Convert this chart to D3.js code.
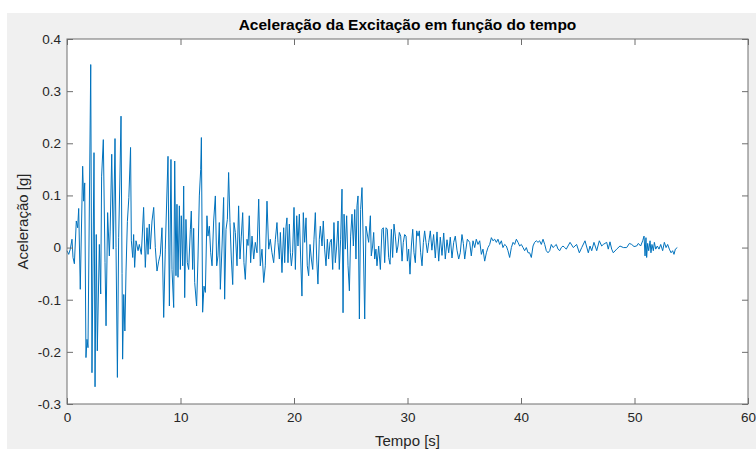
<!DOCTYPE html>
<html>
<head>
<meta charset="utf-8">
<script src="https://cdn.jsdelivr.net/npm/d3@7"></script>
<style>
  body { margin: 0; background: #ffffff; }
  svg { display: block; font-family: "Liberation Sans", Arial, Helvetica, sans-serif; }
</style>
</head>
<body>
<svg id="chart" width="756" height="449"></svg>
<script>
// Ground acceleration record: time instants [s] and acceleration [g]
const tempo = [
  0.00,0.15,0.29,0.44,0.53,0.65,0.82,0.94,1.03,1.17,
  1.38,1.47,1.56,1.67,1.76,1.85,2.09,2.20,2.38,2.47,
  2.58,2.67,2.85,2.97,3.05,3.20,3.35,3.44,3.58,3.73,
  3.80,3.94,4.08,4.23,4.32,4.44,4.55,4.65,4.76,4.85,
  4.90,5.00,5.10,5.20,5.32,5.45,5.60,5.67,5.79,5.87,
  5.96,6.08,6.26,6.37,6.55,6.75,6.90,7.05,7.14,7.25,
  7.34,7.49,7.64,7.78,7.93,8.08,8.22,8.37,8.52,8.66,
  8.90,9.02,9.16,9.25,9.40,9.49,9.60,9.69,9.78,9.90,
  9.99,10.07,10.19,10.28,10.37,10.48,10.60,10.72,10.87,10.95,
  11.07,11.16,11.25,11.42,11.54,11.66,11.78,11.84,11.95,12.07,
  12.19,12.33,12.42,12.54,12.66,12.78,12.92,13.07,13.19,13.30,
  13.42,13.51,13.66,13.80,13.89,14.01,14.13,14.24,14.36,14.48,
  14.60,14.71,14.83,14.98,15.12,15.24,15.36,15.48,15.59,15.71,
  15.86,15.95,16.06,16.18,16.30,16.45,16.59,16.74,16.89,17.03,
  17.18,17.33,17.47,17.62,17.77,17.91,18.06,18.21,18.36,18.50,
  18.59,18.71,18.80,18.94,19.09,19.18,19.30,19.38,19.47,19.59,
  19.68,19.77,19.88,20.00,20.12,20.24,20.35,20.47,20.59,20.70,
  20.82,20.94,21.06,21.17,21.29,21.41,21.53,21.65,21.76,21.88,
  22.00,22.11,22.23,22.32,22.47,22.58,22.70,22.82,22.94,23.05,
  23.17,23.29,23.41,23.52,23.64,23.76,23.88,23.99,24.11,24.23,
  24.32,24.41,24.52,24.64,24.76,24.88,24.99,25.11,25.23,25.35,
  25.46,25.55,25.64,25.76,25.87,25.99,26.11,26.23,26.34,
  26.58,26.73,26.81,26.93,27.02,27.11,27.22,27.31,27.46,27.61,
  27.75,27.87,27.99,28.11,28.22,28.34,28.46,28.58,28.69,28.81,
  28.93,29.05,29.16,29.28,29.40,29.52,29.63,29.75,29.87,29.99,
  30.10,30.22,30.34,30.46,30.57,30.69,30.81,30.93,31.04,31.16,
  31.28,31.40,31.51,31.63,31.75,31.87,32.01,32.15,32.30,32.45,
  32.60,32.75,32.89,33.04,33.19,33.33,33.48,33.63,33.77,33.92,
  34.07,34.21,34.36,34.51,34.65,34.80,34.92,35.04,35.15,35.27,
  35.48,35.62,35.77,35.92,36.06,36.21,36.36,36.51,36.65,36.80,
  36.95,37.09,37.24,37.39,37.53,37.68,37.83,37.97,38.12,38.27,
  38.41,38.56,38.71,38.85,39.00,39.15,39.30,39.44,39.59,39.74,
  39.88,40.03,40.18,40.32,40.47,40.62,40.76,40.91,41.06,41.20,
  41.35,41.50,41.64,41.79,41.94,42.09,42.23,42.38,42.53,42.67,
  42.82,42.97,43.11,43.26,43.41,43.55,43.70,43.85,43.99,44.14,
  44.32,44.61,44.90,45.14,45.35,45.64,45.93,46.08,46.23,46.43,
  46.67,46.90,47.11,47.25,47.55,47.69,47.84,47.99,48.13,48.43,
  48.72,49.02,49.31,49.55,49.75,49.96,50.19,50.34,50.54,50.72,
  50.84,50.93,51.01,51.07,51.16,51.25,51.37,51.45,51.54,51.66,
  51.75,51.87,52.01,52.16,52.31,52.48,52.63,52.78,52.92,53.07,
  53.22,53.36,53.48,53.60,53.77
];

const aceleracao = [
  -0.006,-0.013,-0.003,0.016,-0.019,-0.031,0.051,0.038,0.075,-0.080,
  0.156,0.089,0.124,-0.211,-0.176,-0.192,0.351,-0.240,0.182,-0.267,
  0.025,-0.198,0.006,-0.089,0.137,0.207,-0.029,-0.150,0.067,-0.016,
  0.030,0.179,-0.003,0.209,0.000,-0.249,0.019,0.120,0.252,-0.050,
  -0.214,-0.090,-0.160,-0.045,0.050,0.096,0.192,0.013,-0.019,0.025,
  -0.038,0.013,-0.006,0.006,-0.013,0.077,-0.038,0.038,-0.013,0.045,
  -0.003,0.051,0.077,0.000,-0.045,-0.026,-0.013,0.038,-0.134,-0.003,
  0.175,-0.112,0.169,-0.042,-0.115,0.166,-0.054,0.083,-0.057,0.080,
  -0.042,0.061,-0.035,0.118,-0.096,0.054,-0.029,-0.042,0.035,0.070,
  -0.042,0.037,-0.067,-0.112,-0.022,0.099,0.150,0.211,-0.124,-0.074,
  -0.086,0.061,0.022,0.041,-0.010,-0.035,0.051,0.099,-0.035,-0.016,
  0.048,-0.080,0.003,0.096,-0.099,0.035,0.054,0.144,0.048,-0.022,
  -0.071,0.048,0.029,-0.035,0.080,-0.022,0.022,0.067,-0.029,-0.061,
  0.016,0.004,0.061,-0.029,0.022,-0.022,0.010,-0.010,0.093,-0.035,
  -0.003,-0.067,-0.035,0.089,-0.003,0.016,-0.010,-0.029,0.016,0.048,
  0.010,-0.022,0.029,-0.048,0.038,-0.029,0.041,0.057,-0.029,0.045,
  -0.010,-0.035,-0.010,0.077,-0.042,0.061,0.003,0.064,-0.022,-0.093,
  0.067,0.010,0.057,-0.035,-0.054,0.006,-0.022,-0.042,0.016,0.067,
  -0.022,-0.070,0.016,0.041,0.003,0.051,-0.003,-0.035,0.016,-0.022,
  0.010,0.016,-0.042,0.048,-0.029,0.003,0.051,-0.042,0.016,0.112,
  -0.125,0.064,-0.003,0.061,-0.035,-0.083,0.022,0.064,0.003,0.073,
  -0.022,0.080,0.099,-0.137,0.073,0.115,0.003,-0.137,0.041,
  0.010,0.061,-0.016,0.003,0.029,-0.022,-0.003,-0.035,0.003,-0.042,
  0.035,0.038,-0.029,0.038,0.035,-0.019,-0.032,0.035,-0.019,0.045,
  0.022,-0.010,0.003,0.029,0.022,-0.026,0.010,0.025,0.022,-0.026,
  -0.003,-0.051,0.003,0.035,-0.010,-0.029,0.032,0.022,0.032,-0.010,
  -0.035,0.010,0.032,0.010,-0.010,0.010,0.032,-0.005,0.025,-0.020,
  0.030,-0.026,0.020,-0.015,0.028,-0.022,0.015,-0.010,0.020,-0.020,
  0.010,0.022,-0.005,-0.022,-0.010,0.025,0.008,-0.022,-0.003,0.016,
  0.010,-0.016,0.013,0.000,0.016,0.006,0.013,-0.013,-0.003,-0.026,
  -0.010,0.000,0.006,0.019,0.013,0.016,0.010,0.016,0.006,0.013,
  0.000,0.006,0.003,-0.006,-0.019,0.000,0.010,0.006,0.016,0.010,
  0.003,0.006,0.000,-0.006,0.000,-0.010,-0.010,-0.019,0.003,0.010,
  0.013,0.010,0.013,0.006,0.016,0.006,-0.006,-0.010,-0.006,0.006,
  0.000,0.003,0.006,-0.003,-0.006,0.000,0.003,0.000,-0.003,0.003,
  0.010,0.000,0.006,-0.010,0.000,0.013,-0.010,0.003,-0.006,0.010,
  -0.006,0.013,0.003,0.006,0.010,-0.003,0.011,-0.003,-0.010,-0.003,
  0.003,0.000,0.000,0.008,0.006,0.002,0.003,0.008,0.003,0.013,
  0.022,-0.016,0.019,-0.019,0.008,-0.006,0.013,-0.010,0.006,-0.006,
  0.010,-0.003,0.003,-0.003,0.006,-0.006,0.010,0.000,0.006,-0.003,
  -0.010,-0.006,-0.013,-0.003,0.000
];

// Axis ticks and their labels
const xTicks = [0, 10, 20, 30, 40, 50, 60];
const xTickLabels = ["0", "10", "20", "30", "40", "50", "60"];
const yTicks = [-0.3, -0.2, -0.1, 0, 0.1, 0.2, 0.3, 0.4];
const yTickLabels = ["-0.3", "-0.2", "-0.1", "0", "0.1", "0.2", "0.3", "0.4"];

const titulo = "Aceleração da Excitação em função do tempo";
const rotuloX = "Tempo [s]";
const rotuloY = "Aceleração [g]";

const W = 756, H = 449;
const plot = { left: 67, right: 748, top: 39, bottom: 404 };
const axisColor = "#6e6e6e";
const textColor = "#262626";

const svg = d3.select("#chart");

// figure background
svg.append("rect")
  .attr("x", 7).attr("y", 13)
  .attr("width", W - 7).attr("height", H - 13)
  .attr("fill", "#f0f0f0");

const x = d3.scaleLinear().domain([0, 60]).range([plot.left, plot.right]);
const y = d3.scaleLinear().domain([-0.3, 0.4]).range([plot.bottom, plot.top]);

// axes area
svg.append("rect")
  .attr("x", plot.left).attr("y", plot.top)
  .attr("width", plot.right - plot.left).attr("height", plot.bottom - plot.top)
  .attr("fill", "#ffffff");

// acceleration trace
const idx = d3.range(tempo.length);
svg.append("path")
  .datum(idx)
  .attr("fill", "none")
  .attr("stroke", "#0072BD")
  .attr("stroke-width", 1)
  .attr("stroke-linejoin", "round")
  .attr("d", d3.line().x(i => x(tempo[i])).y(i => y(aceleracao[i])));

function styleAxis(g) {
  g.select(".domain").remove();
  g.selectAll(".tick line").attr("stroke", axisColor);
  g.selectAll(".tick text")
    .attr("fill", textColor)
    .style("font-size", "13.5px")
    .style("font-family", "'Liberation Sans', Arial, sans-serif");
}

// bottom axis with labels
svg.append("g")
  .attr("transform", `translate(0,${plot.bottom})`)
  .call(d3.axisBottom(x).tickValues(xTicks)
    .tickFormat((d, i) => xTickLabels[i])
    .tickSizeInner(-6).tickSizeOuter(0).tickPadding(8))
  .call(styleAxis);

// top axis, ticks only
svg.append("g")
  .attr("transform", `translate(0,${plot.top})`)
  .call(d3.axisTop(x).tickValues(xTicks).tickFormat(() => "")
    .tickSizeInner(-6).tickSizeOuter(0))
  .call(styleAxis);

// left axis with labels
svg.append("g")
  .attr("transform", `translate(${plot.left},0)`)
  .call(d3.axisLeft(y).tickValues(yTicks)
    .tickFormat((d, i) => yTickLabels[i])
    .tickSizeInner(-6).tickSizeOuter(0).tickPadding(6))
  .call(styleAxis);

// right axis, ticks only
svg.append("g")
  .attr("transform", `translate(${plot.right},0)`)
  .call(d3.axisRight(y).tickValues(yTicks).tickFormat(() => "")
    .tickSizeInner(-6).tickSizeOuter(0))
  .call(styleAxis);

// axes box
svg.append("rect")
  .attr("x", plot.left).attr("y", plot.top)
  .attr("width", plot.right - plot.left).attr("height", plot.bottom - plot.top)
  .attr("fill", "none")
  .attr("stroke", axisColor)
  .attr("stroke-width", 1);

// title
svg.append("text")
  .attr("x", (plot.left + plot.right) / 2)
  .attr("y", 30)
  .attr("text-anchor", "middle")
  .attr("fill", "#000000")
  .style("font-size", "15.5px")
  .style("font-weight", "bold")
  .text(titulo);

// x label
svg.append("text")
  .attr("x", (plot.left + plot.right) / 2)
  .attr("y", 446)
  .attr("text-anchor", "middle")
  .attr("fill", textColor)
  .style("font-size", "15px")
  .text(rotuloX);

// y label
svg.append("text")
  .attr("transform", `translate(27.5,${(plot.top + plot.bottom) / 2}) rotate(-90)`)
  .attr("text-anchor", "middle")
  .attr("fill", textColor)
  .style("font-size", "15px")
  .text(rotuloY);
</script>
</body>
</html>
